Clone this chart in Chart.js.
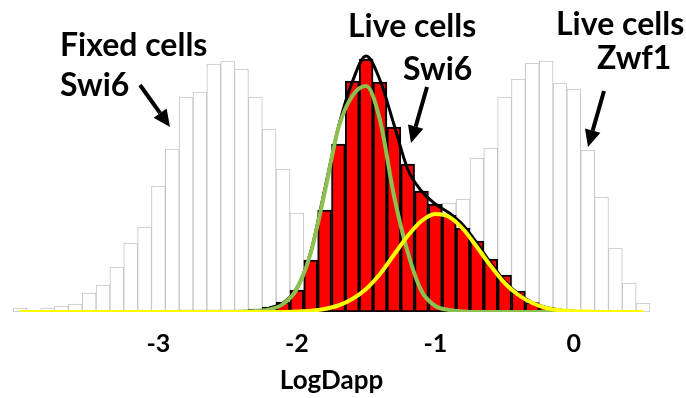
<!DOCTYPE html>
<html>
<head>
<meta charset="utf-8">
<script src="https://cdn.jsdelivr.net/npm/chart.js@4.4.1/dist/chart.umd.min.js"></script>
<style>
  html, body { margin: 0; padding: 0; background: #fff; }
  #wrap { width: 686px; height: 398px; }
</style>
</head>
<body>
<div id="wrap"><canvas id="dapp-chart"></canvas></div>
<script>
// LogDapp bin centres (0.1 wide)
const bins = [-4.0, -3.9, -3.8, -3.7, -3.6, -3.5, -3.4, -3.3, -3.2, -3.1,
              -3.0, -2.9, -2.8, -2.7, -2.6, -2.5, -2.4, -2.3, -2.2, -2.1,
              -2.0, -1.9, -1.8, -1.7, -1.6, -1.5, -1.4, -1.3, -1.2, -1.1,
              -1.0, -0.9, -0.8, -0.7, -0.6, -0.5, -0.4, -0.3, -0.2, -0.1,
               0.0,  0.1,  0.2,  0.3,  0.4,  0.5];
const tickValues = [-3, -2, -1, 0];

// histogram counts per bin
const fixedSwi6 = [4, 2, 4, 6, 8, 19, 27, 45, 69, 85,
                   126, 163, 215, 220, 248, 251, 243, 215, 183, 143,
                   99, null, null, null, null, null, null, null, null, null,
                   null, null, null, null, null, null, null, null, null, null,
                   null, null, null, null, null, null];
const liveSwi6 = [null, null, null, null, null, null, null, null, null, null,
                  null, null, 2, 2, 2, 2, 2, 3, 5, 10,
                  22, 52, 102, 168, 231, 253, 230, 185, 148, 121,
                  108, 97, 84, 71, 53, 37, 21, 9.5, 5, 2,
                  null, null, null, null, null, null];
const liveZwf1 = [null, null, null, null, null, null, null, null, null, null,
                  null, null, null, null, null, null, null, null, null, null,
                  null, null, null, null, null, null, null, null, null, null,
                  null, 109, 113, 154, 164, 215, 233, 249, 251, 229,
                  223, 162, 115, 64, 29, 9];

// fitted components and their sum
const fitFast = [0, 0, 0, 0, 0, 0, 0, 0, 0, 0,
                 0, 0, 0, 0, 0, 0, 0.3, 1, 2.5, 8,
                 23, 59, 119, 184, 216, 226, 192, 117, 60, 21,
                 6, 2, 0.6, 0, 0, 0, 0, 0, 0, 0,
                 0, 0, 0, 0, 0, 0];
const fitSlow = [0, 0, 0, 0, 0, 0, 0, 0, 0, 0,
                 0, 0, 0, 0, 0, 0, 0, 0, 0, 0,
                 0.4, 1.2, 3, 6.5, 13, 23, 38, 57, 76, 91,
                 98, 95, 83, 65, 46, 29, 17, 9, 4, 1.7,
                 0.7, 0.2, 0, 0, 0, 0];
const fitSum = [null, null, null, null, null, null, null, null, null, null,
                null, null, null, null, null, null, null, null, 4, 9,
                24, 60, 122, 185, 230, 256, 232, 188, 143, 121,
                108, 99, 87, 69, 49, 31, 18, 9.5, 4.5, 2,
                0.8, null, null, null, null, null];

const notes = [
    { text: 'Fixed cells', x: 60, y: 56 },
    { text: 'Swi6', x: 60, y: 96 },
    { text: 'Live cells', x: 348, y: 37 },
    { text: 'Swi6', x: 403, y: 80 },
    { text: 'Live cells', x: 556, y: 35 },
    { text: 'Zwf1', x: 597, y: 69 }
];
const arrows = [
    [140, 85, 170, 127],
    [427, 87, 411, 143],
    [604, 91, 588, 147]
];

const labelPlugin = {
    id: 'labels',
    afterDraw(chart) {
        const ctx = chart.ctx;
        ctx.save();
        ctx.fillStyle = '#000';
        ctx.strokeStyle = '#000';
        ctx.font = 'bold 32px Lato';
        ctx.textBaseline = 'alphabetic';
        notes.forEach(n => ctx.fillText(n.text, n.x, n.y));

        arrows.forEach(([x1, y1, x2, y2]) => {
            const a = Math.atan2(y2 - y1, x2 - x1);
            const head = 17, half = 8;
            const bx = x2 - head * Math.cos(a), by = y2 - head * Math.sin(a);
            ctx.lineWidth = 4;
            ctx.beginPath();
            ctx.moveTo(x1, y1);
            ctx.lineTo(bx, by);
            ctx.stroke();
            ctx.beginPath();
            ctx.moveTo(x2, y2);
            ctx.lineTo(bx + half * Math.sin(a), by - half * Math.cos(a));
            ctx.lineTo(bx - half * Math.sin(a), by + half * Math.cos(a));
            ctx.closePath();
            ctx.fill();
        });
        ctx.restore();
    }
};

const curve = (data, color, width, order) => ({
    type: 'line',
    data: data,
    borderColor: color,
    borderWidth: width,
    pointRadius: 0,
    cubicInterpolationMode: 'monotone',
    fill: false,
    order: order
});

const bars = (data, fillColor, edgeColor, width, order) => ({
    type: 'bar',
    data: data,
    backgroundColor: fillColor,
    borderColor: edgeColor,
    borderWidth: width,
    borderSkipped: false,
    barPercentage: 1,
    categoryPercentage: 1,
    grouped: false,
    order: order
});

new Chart(document.getElementById('dapp-chart'), {
    data: {
        labels: bins,
        datasets: [
            curve(fitSlow, '#ffff00', 4, 1),
            curve(fitFast, '#8dc14f', 4, 2),
            curve(fitSum, '#000000', 3, 3),
            bars(liveSwi6, '#ff0000', '#000000', 2, 4),
            bars(liveZwf1, '#ffffff', '#c4c4c4', 1, 5),
            bars(fixedSwi6, '#ffffff', '#c4c4c4', 1, 6)
        ]
    },
    options: {
        responsive: true,
        maintainAspectRatio: false,
        animation: false,
        layout: { padding: { left: 13, right: 36, top: 12, bottom: 0 } },
        plugins: {
            legend: { display: false },
            tooltip: { enabled: false }
        },
        scales: {
            x: {
                offset: true,
                afterFit: scale => { scale.height = 86; },
                grid: { display: false, drawTicks: false },
                border: { display: false },
                ticks: {
                    autoSkip: false,
                    maxRotation: 0,
                    padding: 17,
                    color: '#000',
                    font: { family: 'Lato', size: 25, weight: 'bold' },
                    callback: function (value) {
                        const v = Number(this.getLabelForValue(value));
                        return tickValues.includes(v) ? String(v) : '';
                    }
                },
                title: {
                    display: true,
                    text: 'LogDapp',
                    color: '#000',
                    padding: { top: 0, bottom: 1.5 },
                    font: { family: 'Lato', size: 26, weight: 'bold' }
                }
            },
            y: {
                display: false,
                min: 0,
                max: 300
            }
        }
    },
    plugins: [labelPlugin]
});
</script>
</body>
</html>
